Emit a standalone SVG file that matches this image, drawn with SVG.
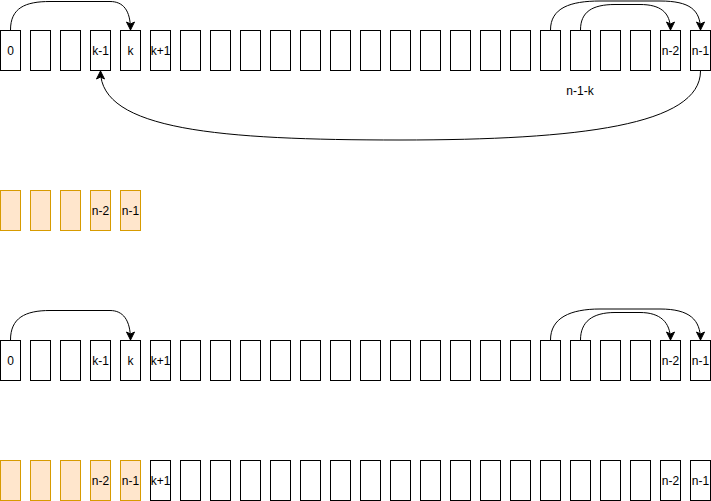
<svg xmlns="http://www.w3.org/2000/svg" width="711" height="501" viewBox="0 0 711 501">
<style>
.b{fill:#ffffff;stroke:#000000;stroke-width:1}
.o{fill:#ffe6cc;stroke:#d79b00;stroke-width:1}
text{font-family:"Liberation Sans",Arial,sans-serif;font-size:12px;fill:#000000;text-anchor:middle;dominant-baseline:central}
.e{fill:none;stroke:#000000;stroke-width:1;marker-end:url(#ah)}
</style>
<defs>
<marker id="ah" markerUnits="userSpaceOnUse" markerWidth="10" markerHeight="10" viewBox="0 0 10 10" refX="9" refY="5" orient="auto">
<path d="M1,1 L9,5 L1,9 L3,5 Z" fill="#000000" stroke="#000000" stroke-width="1"/>
</marker>
</defs>
<g id="row1">
<g id="r1b0"><rect class="b" x="0.5" y="30.5" width="20" height="40"/><text x="10.5" y="50.5">0</text></g>
<g id="r1b1"><rect class="b" x="30.5" y="30.5" width="20" height="40"/></g>
<g id="r1b2"><rect class="b" x="60.5" y="30.5" width="20" height="40"/></g>
<g id="r1b3"><rect class="b" x="90.5" y="30.5" width="20" height="40"/><text x="100.5" y="50.5">k-1</text></g>
<g id="r1b4"><rect class="b" x="120.5" y="30.5" width="20" height="40"/><text x="130.5" y="50.5">k</text></g>
<g id="r1b5"><rect class="b" x="150.5" y="30.5" width="20" height="40"/><text x="160.5" y="50.5">k+1</text></g>
<g id="r1b6"><rect class="b" x="180.5" y="30.5" width="20" height="40"/></g>
<g id="r1b7"><rect class="b" x="210.5" y="30.5" width="20" height="40"/></g>
<g id="r1b8"><rect class="b" x="240.5" y="30.5" width="20" height="40"/></g>
<g id="r1b9"><rect class="b" x="270.5" y="30.5" width="20" height="40"/></g>
<g id="r1b10"><rect class="b" x="300.5" y="30.5" width="20" height="40"/></g>
<g id="r1b11"><rect class="b" x="330.5" y="30.5" width="20" height="40"/></g>
<g id="r1b12"><rect class="b" x="360.5" y="30.5" width="20" height="40"/></g>
<g id="r1b13"><rect class="b" x="390.5" y="30.5" width="20" height="40"/></g>
<g id="r1b14"><rect class="b" x="420.5" y="30.5" width="20" height="40"/></g>
<g id="r1b15"><rect class="b" x="450.5" y="30.5" width="20" height="40"/></g>
<g id="r1b16"><rect class="b" x="480.5" y="30.5" width="20" height="40"/></g>
<g id="r1b17"><rect class="b" x="510.5" y="30.5" width="20" height="40"/></g>
<g id="r1b18"><rect class="b" x="540.5" y="30.5" width="20" height="40"/></g>
<g id="r1b19"><rect class="b" x="570.5" y="30.5" width="20" height="40"/></g>
<g id="r1b20"><rect class="b" x="600.5" y="30.5" width="20" height="40"/></g>
<g id="r1b21"><rect class="b" x="630.5" y="30.5" width="20" height="40"/></g>
<g id="r1b22"><rect class="b" x="660.5" y="30.5" width="20" height="40"/><text x="670.5" y="50.5">n-2</text></g>
<g id="r1b23"><rect class="b" x="690.5" y="30.5" width="20" height="40"/><text x="700.5" y="50.5">n-1</text></g>
</g>
<g id="label-n1k"><text x="580" y="91">n-1-k</text></g>
<g id="row2">
<g id="r2b0"><rect class="o" x="0.5" y="190.5" width="20" height="40"/></g>
<g id="r2b1"><rect class="o" x="30.5" y="190.5" width="20" height="40"/></g>
<g id="r2b2"><rect class="o" x="60.5" y="190.5" width="20" height="40"/></g>
<g id="r2b3"><rect class="o" x="90.5" y="190.5" width="20" height="40"/><text x="100.5" y="210.5">n-2</text></g>
<g id="r2b4"><rect class="o" x="120.5" y="190.5" width="20" height="40"/><text x="130.5" y="210.5">n-1</text></g>
</g>
<g id="row3">
<g id="r3b0"><rect class="b" x="0.5" y="340.5" width="20" height="40"/><text x="10.5" y="360.5">0</text></g>
<g id="r3b1"><rect class="b" x="30.5" y="340.5" width="20" height="40"/></g>
<g id="r3b2"><rect class="b" x="60.5" y="340.5" width="20" height="40"/></g>
<g id="r3b3"><rect class="b" x="90.5" y="340.5" width="20" height="40"/><text x="100.5" y="360.5">k-1</text></g>
<g id="r3b4"><rect class="b" x="120.5" y="340.5" width="20" height="40"/><text x="130.5" y="360.5">k</text></g>
<g id="r3b5"><rect class="b" x="150.5" y="340.5" width="20" height="40"/><text x="160.5" y="360.5">k+1</text></g>
<g id="r3b6"><rect class="b" x="180.5" y="340.5" width="20" height="40"/></g>
<g id="r3b7"><rect class="b" x="210.5" y="340.5" width="20" height="40"/></g>
<g id="r3b8"><rect class="b" x="240.5" y="340.5" width="20" height="40"/></g>
<g id="r3b9"><rect class="b" x="270.5" y="340.5" width="20" height="40"/></g>
<g id="r3b10"><rect class="b" x="300.5" y="340.5" width="20" height="40"/></g>
<g id="r3b11"><rect class="b" x="330.5" y="340.5" width="20" height="40"/></g>
<g id="r3b12"><rect class="b" x="360.5" y="340.5" width="20" height="40"/></g>
<g id="r3b13"><rect class="b" x="390.5" y="340.5" width="20" height="40"/></g>
<g id="r3b14"><rect class="b" x="420.5" y="340.5" width="20" height="40"/></g>
<g id="r3b15"><rect class="b" x="450.5" y="340.5" width="20" height="40"/></g>
<g id="r3b16"><rect class="b" x="480.5" y="340.5" width="20" height="40"/></g>
<g id="r3b17"><rect class="b" x="510.5" y="340.5" width="20" height="40"/></g>
<g id="r3b18"><rect class="b" x="540.5" y="340.5" width="20" height="40"/></g>
<g id="r3b19"><rect class="b" x="570.5" y="340.5" width="20" height="40"/></g>
<g id="r3b20"><rect class="b" x="600.5" y="340.5" width="20" height="40"/></g>
<g id="r3b21"><rect class="b" x="630.5" y="340.5" width="20" height="40"/></g>
<g id="r3b22"><rect class="b" x="660.5" y="340.5" width="20" height="40"/><text x="670.5" y="360.5">n-2</text></g>
<g id="r3b23"><rect class="b" x="690.5" y="340.5" width="20" height="40"/><text x="700.5" y="360.5">n-1</text></g>
</g>
<g id="row4">
<g id="r4b0"><rect class="o" x="0.5" y="460.5" width="20" height="40"/></g>
<g id="r4b1"><rect class="o" x="30.5" y="460.5" width="20" height="40"/></g>
<g id="r4b2"><rect class="o" x="60.5" y="460.5" width="20" height="40"/></g>
<g id="r4b3"><rect class="o" x="90.5" y="460.5" width="20" height="40"/><text x="100.5" y="480.5">n-2</text></g>
<g id="r4b4"><rect class="o" x="120.5" y="460.5" width="20" height="40"/><text x="130.5" y="480.5">n-1</text></g>
<g id="r4b5"><rect class="b" x="150.5" y="460.5" width="20" height="40"/><text x="160.5" y="480.5">k+1</text></g>
<g id="r4b6"><rect class="b" x="180.5" y="460.5" width="20" height="40"/></g>
<g id="r4b7"><rect class="b" x="210.5" y="460.5" width="20" height="40"/></g>
<g id="r4b8"><rect class="b" x="240.5" y="460.5" width="20" height="40"/></g>
<g id="r4b9"><rect class="b" x="270.5" y="460.5" width="20" height="40"/></g>
<g id="r4b10"><rect class="b" x="300.5" y="460.5" width="20" height="40"/></g>
<g id="r4b11"><rect class="b" x="330.5" y="460.5" width="20" height="40"/></g>
<g id="r4b12"><rect class="b" x="360.5" y="460.5" width="20" height="40"/></g>
<g id="r4b13"><rect class="b" x="390.5" y="460.5" width="20" height="40"/></g>
<g id="r4b14"><rect class="b" x="420.5" y="460.5" width="20" height="40"/></g>
<g id="r4b15"><rect class="b" x="450.5" y="460.5" width="20" height="40"/></g>
<g id="r4b16"><rect class="b" x="480.5" y="460.5" width="20" height="40"/></g>
<g id="r4b17"><rect class="b" x="510.5" y="460.5" width="20" height="40"/></g>
<g id="r4b18"><rect class="b" x="540.5" y="460.5" width="20" height="40"/></g>
<g id="r4b19"><rect class="b" x="570.5" y="460.5" width="20" height="40"/></g>
<g id="r4b20"><rect class="b" x="600.5" y="460.5" width="20" height="40"/></g>
<g id="r4b21"><rect class="b" x="630.5" y="460.5" width="20" height="40"/></g>
<g id="r4b22"><rect class="b" x="660.5" y="460.5" width="20" height="40"/><text x="670.5" y="480.5">n-2</text></g>
<g id="r4b23"><rect class="b" x="690.5" y="460.5" width="20" height="40"/><text x="700.5" y="480.5">n-1</text></g>
</g>
<g id="connectors">
<path class="e" d="M10.5,30 C10.5,8 25,1.5 50,1.5 L110,1.5 C123,1.5 130.5,10 130.5,30"/>
<path class="e" d="M550.5,30 C550.5,8 570,1 600,1 L660,1 C690,1 700.5,10 700.5,30"/>
<path class="e" d="M580.5,30 C580.5,12 592,4.5 615,4.5 L640,4.5 C660,4.5 670.5,12 670.5,30"/>
<path class="e" d="M700.5,71 C700.5,125 580,140 400,140 C220,140 100.5,130 100.5,71"/>
<path class="e" d="M10.5,340 C10.5,318 25,310.5 50,310.5 L110,310.5 C123,310.5 130.5,320 130.5,340"/>
<path class="e" d="M550.5,340 C550.5,318 570,309 600,309 L660,309 C690,309 700.5,320 700.5,340"/>
<path class="e" d="M580.5,340 C580.5,322 592,312.5 615,312.5 L640,312.5 C660,312.5 670.5,322 670.5,340"/>
</g>
</svg>
